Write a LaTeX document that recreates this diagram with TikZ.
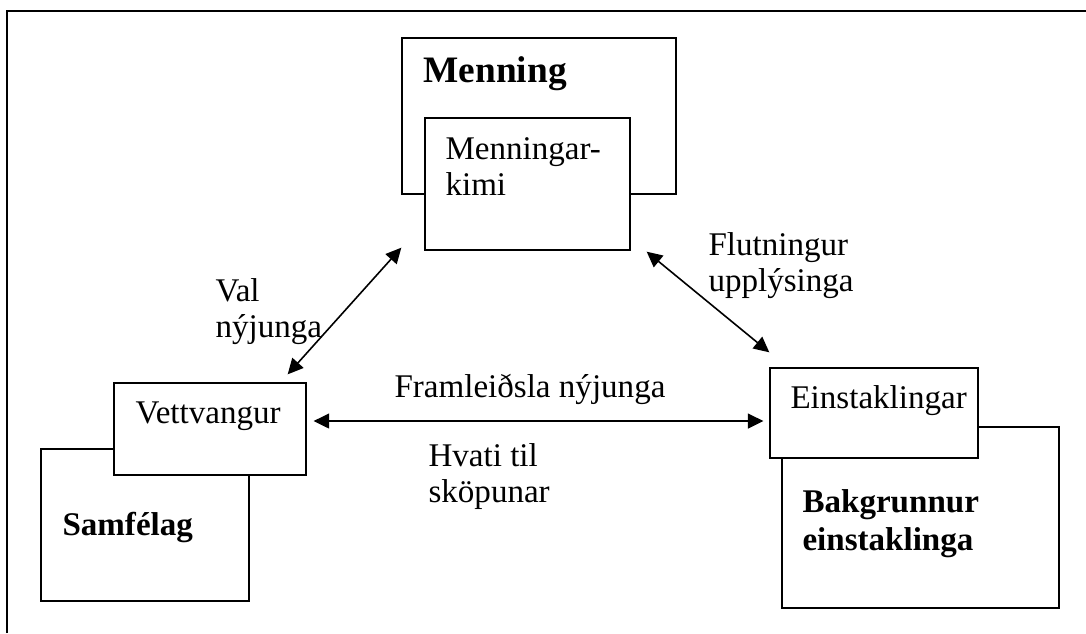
\documentclass[tikz,border=0pt]{standalone}
\usepackage{fontspec}
\setmainfont{Liberation Serif}
\usetikzlibrary{arrows.meta,calc,fit}

\begin{document}
\begin{tikzpicture}[x=0.375pt,y=-0.375pt,
    font=\fontsize{12.4}{13.5}\selectfont,
    box/.style={draw,line width=0.5pt,fill=white,inner sep=0pt},
    txt/.style={anchor=base west,inner sep=0pt,align=left},
    pil/.style={line width=0.6pt,{Triangle[length=5.8pt,width=5.6pt]}-{Triangle[length=5.8pt,width=5.6pt]}}]
    \useasboundingbox (0,0) rectangle (1086,633);

    % ramminn
    \coordinate (R1) at (7,633);
    \coordinate (R2) at (7,11);
    \coordinate (R3) at (1086,11);
    \draw[line width=0.7pt] (R1) -- (R2) -- (R3);

    % menning og menningarkimi
    \node[box,fit={(402,38) (676,194)}] (menning) {};
    \node[box,fit={(425,118) (630,250)}] (kimi) {};
    \node[txt,font=\fontsize{14}{16}\selectfont\bfseries] (menningT) at (423,82) {Menning};
    \node[txt] (kimiT) at (445,195) {Menningar-\\kimi};

    % samfelag og vettvangur
    \node[box,fit={(41,449) (249,601)}] (samf) {};
    \node[box,fit={(114,383) (306,475)}] (vett) {};
    \node[txt] (vettT) at (135,423) {Vettvangur};
    \node[txt,font=\fontsize{12.4}{14.25}\selectfont\bfseries] (samfT) at (62,535) {Samfélag};

    % bakgrunnur og einstaklingar
    \node[box,fit={(782,427) (1059,608)}] (bakgr) {};
    \node[box,fit={(770,368) (978,458)}] (einst) {};
    \node[txt] (einstT) at (790,408) {Einstaklingar};
    \node[txt,font=\fontsize{12.4}{14.25}\selectfont\bfseries] (bakgrT) at (802,550) {Bakgrunnur\\einstaklinga};

    % endar pilanna
    \coordinate (valA) at ($(vett.north east)+(-19,-8)$);
    \coordinate (valB) at ($(kimi.south west)+(-23,-3)$);
    \coordinate (flutA) at ($(kimi.south east)+(16,1)$);
    \coordinate (flutB) at ($(einst.north west)+(0,-15)$);
    \coordinate (framA) at ($(vett.east)+(7,-8)$);
    \coordinate (framB) at ($(einst.west)+(-6,8)$);

    \draw[pil] (valA) -- (valB);
    \draw[pil] (flutA) -- (flutB);
    \draw[pil] (framA) -- (framB);

    % merkingar
    \node[txt] (valT) at (215,337) {Val\\nýjunga};
    \node[txt] (flutT) at (708,291) {Flutningur\\upplýsinga};
    \node[txt] (framT) at (394,397) {Framleiðsla nýjunga};
    \node[txt] (hvatiT) at (428,502) {Hvati til\\sköpunar};

\end{tikzpicture}
\end{document}
